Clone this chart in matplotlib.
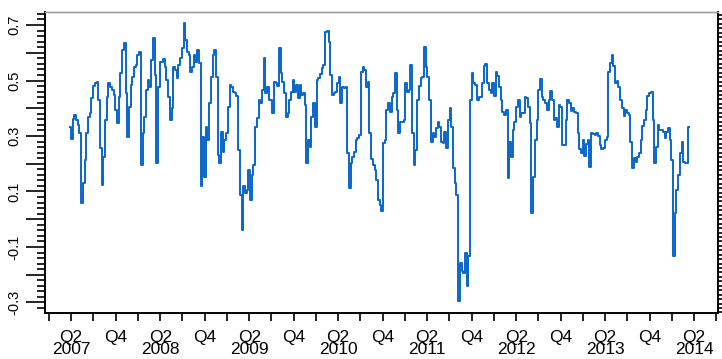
import matplotlib
matplotlib.use("Agg")
import matplotlib.pyplot as plt
from matplotlib.ticker import MultipleLocator, FixedLocator, FuncFormatter
import numpy as np
import pandas as pd

plt.rcParams['font.family'] = ['Liberation Sans', 'DejaVu Sans']

# weekly observations, first week of April 2007 onwards
start = "2007-03-28"
values = [
    0.334, 0.29, 0.36, 0.376, 0.358, 0.34, 0.31, 0.058, 0.13, 0.214,
    0.31, 0.37, 0.382, 0.436, 0.48, 0.492, 0.496, 0.43, 0.256, 0.124,
    0.226, 0.358, 0.442, 0.492, 0.478, 0.466, 0.448, 0.394, 0.346, 0.442,
    0.526, 0.61, 0.634, 0.454, 0.298, 0.406, 0.484, 0.514, 0.55, 0.556,
    0.592, 0.604, 0.196, 0.31, 0.37, 0.466, 0.502, 0.478, 0.574, 0.652,
    0.52, 0.204, 0.478, 0.568, 0.568, 0.576, 0.55, 0.502, 0.442, 0.358,
    0.40, 0.55, 0.538, 0.508, 0.556, 0.58, 0.616, 0.706, 0.646, 0.604,
    0.592, 0.532, 0.55, 0.592, 0.568, 0.61, 0.562, 0.118, 0.298, 0.154,
    0.334, 0.286, 0.418, 0.514, 0.592, 0.61, 0.514, 0.232, 0.202, 0.316,
    0.244, 0.286, 0.31, 0.406, 0.484, 0.478, 0.46, 0.454, 0.444, 0.25,
    0.088, -0.038, 0.118, 0.094, 0.106, 0.178, 0.07, 0.16, 0.196, 0.334,
    0.364, 0.43, 0.418, 0.466, 0.58, 0.454, 0.478, 0.43, 0.43, 0.382,
    0.496, 0.49, 0.48, 0.616, 0.526, 0.496, 0.454, 0.37, 0.382, 0.43,
    0.46, 0.502, 0.46, 0.484, 0.436, 0.484, 0.448, 0.454, 0.412, 0.202,
    0.286, 0.262, 0.37, 0.418, 0.334, 0.502, 0.51, 0.524, 0.544, 0.556,
    0.676, 0.68, 0.64, 0.52, 0.448, 0.454, 0.46, 0.49, 0.514, 0.418,
    0.478, 0.472, 0.476, 0.238, 0.112, 0.202, 0.226, 0.244, 0.286, 0.292,
    0.304, 0.532, 0.55, 0.538, 0.478, 0.496, 0.31, 0.216, 0.196, 0.178,
    0.142, 0.07, 0.052, 0.028, 0.276, 0.284, 0.394, 0.418, 0.388, 0.442,
    0.454, 0.526, 0.394, 0.31, 0.352, 0.352, 0.358, 0.49, 0.46, 0.466,
    0.556, 0.31, 0.196, 0.25, 0.43, 0.48, 0.508, 0.514, 0.622, 0.55,
    0.514, 0.43, 0.28, 0.31, 0.298, 0.328, 0.352, 0.334, 0.28, 0.274,
    0.316, 0.256, 0.358, 0.40, 0.334, 0.184, 0.13, 0.088, -0.296, -0.158,
    -0.188, -0.194, -0.122, -0.242, -0.134, 0.43, 0.526, 0.49, 0.484, 0.43,
    0.442, 0.442, 0.49, 0.552, 0.56, 0.49, 0.466, 0.454, 0.49, 0.444,
    0.532, 0.516, 0.478, 0.43, 0.388, 0.376, 0.394, 0.148, 0.28, 0.226,
    0.322, 0.352, 0.406, 0.43, 0.37, 0.382, 0.382, 0.442, 0.436, 0.406,
    0.346, 0.022, 0.154, 0.286, 0.358, 0.466, 0.504, 0.442, 0.43, 0.418,
    0.394, 0.43, 0.464, 0.43, 0.358, 0.364, 0.334, 0.412, 0.406, 0.268,
    0.268, 0.358, 0.43, 0.418, 0.39, 0.40, 0.388, 0.382, 0.31, 0.254,
    0.238, 0.286, 0.228, 0.272, 0.284, 0.19, 0.31, 0.308, 0.304, 0.31,
    0.30, 0.268, 0.254, 0.256, 0.286, 0.298, 0.532, 0.562, 0.592, 0.552,
    0.49, 0.50, 0.476, 0.43, 0.40, 0.372, 0.394, 0.382, 0.374, 0.28,
    0.184, 0.22, 0.206, 0.224, 0.238, 0.286, 0.336, 0.356, 0.394, 0.446,
    0.454, 0.46, 0.358, 0.202, 0.262, 0.338, 0.322, 0.322, 0.316, 0.292,
    0.316, 0.328, 0.286, 0.214, -0.134, 0.022, 0.106, 0.16, 0.238, 0.28,
    0.208, 0.202, 0.202, 0.334,
]
ytick_labels = ["0.7", "0.5", "0.3", "0.1", "-0.1", "-0.3"]

dates = pd.date_range(start, periods=len(values), freq="7D")
quarters = pd.date_range("2007-01-01", "2014-07-01", freq="QS")

fig = plt.figure(figsize=(7.22, 3.59), dpi=100)
ax = fig.add_axes([45 / 722, 1 - 313 / 359, 673 / 722, 301 / 359])

ax.plot(dates, values, color="#0a66c8", lw=1.4, drawstyle="steps-mid")

ax.set_xlim(pd.Timestamp("2006-12-15"), pd.Timestamp("2014-07-08"))
ax.set_ylim(-0.338, 0.747)


def qlabel(d):
    if d.month == 4:
        return "Q2\n%d" % d.year
    if d.month == 10:
        return "Q4"
    return ""


ax.set_xticks(quarters)
ax.set_xticklabels([qlabel(d) for d in quarters], fontsize=12.5,
                   linespacing=0.8, va="top")
ax.tick_params(axis="x", direction="out", length=6, width=1.2, pad=6)

ax.yaxis.set_major_locator(FixedLocator(np.round(np.arange(-0.3, 0.71, 0.1), 1)))
ax.yaxis.set_minor_locator(MultipleLocator(0.02))
ax.yaxis.set_major_formatter(FuncFormatter(
    lambda v, p: ("%g" % round(v, 1)) if ("%g" % round(v, 1)) in ytick_labels else ""))
ax.tick_params(axis="y", which="major", direction="out", length=14, width=1.2,
               pad=3, labelsize=10.5, labelrotation=90)
ax.tick_params(axis="y", which="minor", direction="out", length=6, width=1.2)
for lab in ax.get_yticklabels():
    lab.set_va("center")

# ruler ticks on the right edge
ax2 = ax.twinx()
ax2.set_ylim(ax.get_ylim())
ax2.yaxis.set_major_locator(MultipleLocator(0.016))
ax2.tick_params(axis="y", direction="out", length=4, width=1.2, labelright=False)

for a in (ax, ax2):
    for side in ("left", "bottom", "right"):
        a.spines[side].set_linewidth(1.2)
        a.spines[side].set_color("black")
    a.spines["top"].set_color("#a0a0a0")
    a.spines["top"].set_linewidth(1.0)

fig.savefig("out.png", dpi=100)
